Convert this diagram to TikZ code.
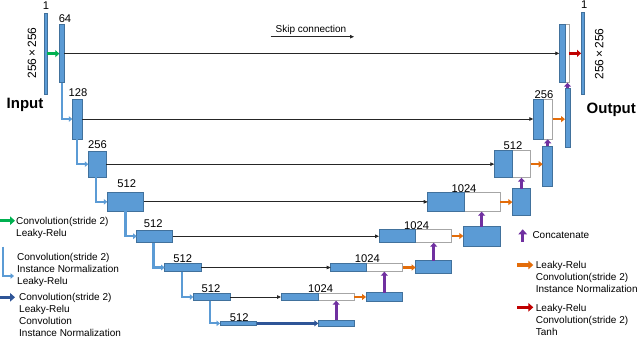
\documentclass[tikz,border=0pt]{standalone}
\usepackage{fontspec}
\setmainfont{Liberation Sans}
\usetikzlibrary{arrows.meta,calc}
\definecolor{bfill}{HTML}{5B9BD5}
\definecolor{bdraw}{HTML}{41719C}
\definecolor{lblue}{HTML}{5B9BD5}
\definecolor{dblue}{HTML}{2F5597}
\definecolor{grn}{HTML}{00B050}
\definecolor{orng}{HTML}{E36C09}
\definecolor{redc}{HTML}{C00000}
\definecolor{purp}{HTML}{7030A0}
\newcommand\blk[6]{%
  \pgfmathsetmacro\bkw{#4-#2}\pgfmathsetmacro\bkh{#5-#3}%
  \node[#6,minimum width=\bkw pt,minimum height=\bkh pt,anchor=north west] (#1) at (#2,#3) {};}
\begin{document}
\begin{tikzpicture}[x=1pt,y=-1pt,
  blue/.style={fill=bfill,draw=bdraw,line width=0.8pt,inner sep=0pt,outer sep=0pt},
  wht/.style={fill=white,draw=black!35,line width=0.8pt,inner sep=0pt,outer sep=0pt},
  skipline/.style={draw=black!85,line width=0.8pt,-{Triangle[length=4pt,width=3.5pt]}},
  downline/.style={draw=lblue,line width=2.2pt,-{Triangle[length=3.5pt,width=5.5pt]}},
  conc/.style={draw=purp,line width=2.8pt,-{Triangle[length=4pt,width=7pt]}},
  orarrow/.style={draw=orng,line width=2.4pt,-{Triangle[length=4pt,width=6pt]}},
  redarrow/.style={draw=redc,line width=2.6pt,-{Triangle[length=4pt,width=7pt]}},
  grarrow/.style={draw=grn,line width=2.6pt,-{Triangle[length=4pt,width=7pt]}},
  dbarrow/.style={draw=dblue,line width=2.6pt,-{Triangle[length=4pt,width=6pt]}},
  lbl/.style={font=\fontsize{11.2}{11}\selectfont,inner sep=0pt},
  big/.style={font=\fontsize{15}{15}\selectfont\bfseries,inner sep=0pt},
  dim/.style={font=\fontsize{12}{12}\selectfont,inner sep=0pt,rotate=90},
  legtxt/.style={font=\fontsize{10}{12.1}\selectfont,align=left,anchor=north west,inner sep=0pt},
  legarrow/.style={line width=3.4pt,-{Triangle[length=5pt,width=8.5pt]}}
]
\useasboundingbox (0,0) rectangle (640,338);

% ---------- encoder ----------
\blk{inp}{44}{13}{47}{94.3}{blue}
\blk{e1}{59.3}{24}{64.3}{82.7}{blue}
\blk{e2}{72.3}{99}{82.3}{139}{blue}
\blk{e3}{88.3}{151}{106}{177.3}{blue}
\blk{e4}{107.3}{192.7}{143.5}{211}{blue}
\blk{e5}{136.7}{230}{172.7}{242.5}{blue}
\blk{e6}{164.7}{263.3}{201}{271.7}{blue}
\blk{e7}{193.3}{293.3}{230}{300.7}{blue}
\blk{e8}{220}{321.7}{256.7}{325}{blue}

% ---------- decoder ----------
\blk{d8}{318.3}{320}{354}{326.7}{blue}
\blk{d7w}{318.3}{293.3}{354.3}{300.7}{wht}
\blk{d7}{281}{293.3}{318.3}{300.7}{blue}
\blk{u7}{366}{292.7}{402.7}{301.7}{blue}
\blk{d6w}{366}{263.3}{402.7}{271.7}{wht}
\blk{d6}{330.7}{263.3}{366}{271.7}{blue}
\blk{u6}{415.7}{260.7}{451.7}{273.3}{blue}
\blk{d5w}{415.7}{229.3}{451.7}{242.7}{wht}
\blk{d5}{379}{229.3}{415.7}{242.7}{blue}
\blk{u5}{463.3}{226.7}{500}{246}{blue}
\blk{d4w}{464}{192.5}{500}{211.7}{wht}
\blk{d4}{427.7}{192.5}{464}{211.7}{blue}
\blk{u4}{512.3}{188.5}{530.7}{215.5}{blue}
\blk{d3w}{512.3}{150.7}{530.7}{177.7}{wht}
\blk{d3}{494.3}{150.7}{512.3}{177.7}{blue}
\blk{u3}{542.7}{146}{552.7}{186.5}{blue}
\blk{d2w}{543}{99}{552.7}{139.3}{wht}
\blk{d2}{533.3}{99}{543}{139.3}{blue}
\blk{u2}{565}{88.3}{570}{147}{blue}
\blk{d1w}{565}{24}{569.3}{82.7}{wht}
\blk{d1}{559.3}{24}{565}{82.7}{blue}
\blk{out}{581}{12.7}{584.3}{94.3}{blue}

% ---------- labels ----------
\node[lbl] (l0) at (46,6) {1};
\node[lbl] (l1) at (65,18.3) {64};
\node[lbl] (l2) at (78,93) {128};
\node[lbl] (l3) at (97.5,144.3) {256};
\node[lbl] (l4) at (126.7,183.3) {512};
\node[lbl] (l5) at (153.3,224) {512};
\node[lbl] (l6) at (182.7,258.3) {512};
\node[lbl] (l7) at (211,288.3) {512};
\node[lbl] (l8) at (239.3,317.3) {512};
\node[lbl] (m7) at (320.7,288.3) {1024};
\node[lbl] (m6) at (367.3,258.3) {1024};
\node[lbl] (m5) at (416.7,226) {1024};
\node[lbl] (m4) at (464,188.5) {1024};
\node[lbl] (m3) at (513,146) {512};
\node[lbl] (m2) at (544,95) {256};
\node[lbl] (m1) at (584.3,5) {1};
\node[dim] (dimL) at (32,53) {256\,×\,256};
\node[dim] (dimR) at (599.3,54) {256\,×\,256};
\node[big] (inlbl) at (25,105) {Input};
\node[big] (outlbl) at (611.3,110) {Output};

% ---------- skip connections ----------
\draw[skipline] (e1.east) -- (e1.east -| d1.west);
\draw[skipline] (e2.east) -- (e2.east -| d2.west);
\draw[skipline] (e3.east) -- (e3.east -| d3.west);
\draw[skipline] (e4.east) -- (e4.east -| d4.west);
\draw[skipline] (e5.east) -- (e5.east -| d5.west);
\draw[skipline] (e6.east) -- (e6.east -| d6.west);
\draw[skipline] (e7.east) -- (e7.east -| d7.west);
\draw[dbarrow] (e8.east) -- (e8.east -| d8.west);

% ---------- down connectors ----------
\draw[grarrow] (inp.east) -- (inp.east -| e1.west);
\draw[downline] (e1.south) |- (e2.west);
\draw[downline] (e2.south) |- (e3.west);
\draw[downline] ([xshift=-1.5pt]e3.south) |- (e4.west);
\draw[downline] (e4.south) |- (e5.west);
\draw[downline] ([xshift=-1.2pt]e5.south) |- (e6.west);
\draw[downline] ([xshift=-1.2pt]e6.south) |- (e7.west);
\draw[downline] ([xshift=-1.5pt]e7.south) |- (e8.west);

% ---------- up path ----------
\draw[conc] (d8.north) -- (d8.north |- d7w.south);
\draw[orarrow] (d7w.east) -- (d7w.east -| u7.west);
\draw[conc] (u7.north) -- (u7.north |- d6w.south);
\draw[orarrow] (d6w.east) -- (d6w.east -| u6.west);
\draw[conc] (u6.north) -- (u6.north |- d5w.south);
\draw[orarrow] (d5w.east) -- (d5w.east -| u5.west);
\draw[conc] (u5.north) -- (u5.north |- d4w.south);
\draw[orarrow] (d4w.east) -- (d4w.east -| u4.west);
\draw[conc] (u4.north) -- (u4.north |- d3w.south);
\draw[orarrow] (d3w.east) -- (d3w.east -| u3.west);
\draw[conc] (u3.north) -- (u3.north |- d2w.south);
\draw[orarrow] (d2w.east) -- (d2w.east -| u2.west);
\draw[conc] (u2.north) -- (u2.north |- d1w.south);
\draw[redarrow] (d1w.east) -- (d1w.east -| out.west);

% ---------- skip connection legend ----------
\coordinate (skA) at (270.7,36.7);
\coordinate (skB) at (354,36.7);
\draw[skipline] (skA) -- (skB);
\node[font=\fontsize{10}{10}\selectfont,inner sep=0pt] (sktxt) at (311,30) {Skip connection};

% ---------- left legend ----------
\coordinate (g1) at (0,220.7); \coordinate (g2) at (15,220.7);
\draw[legarrow,draw=grn] (g1) -- (g2);
\node[legtxt] (gt) at (16,217) {Convolution(stride 2)\\Leaky-Relu};
\coordinate (b1) at (2.7,246.7); \coordinate (b2) at (14,276);
\draw[downline] (b1) |- (b2);
\node[legtxt] (bt) at (17,252.6) {Convolution(stride 2)\\Instance Normalization\\Leaky-Relu};
\coordinate (k1) at (0,297.3); \coordinate (k2) at (15,297.3);
\draw[legarrow,draw=dblue] (k1) -- (k2);
\node[legtxt] (kt) at (19,292.8) {Convolution(stride 2)\\Leaky-Relu\\Convolution\\Instance Normalization};

% ---------- right legend ----------
\coordinate (p1) at (522.7,241.7); \coordinate (p2) at (522.7,229.3);
\draw[legarrow,draw=purp] (p1) -- (p2);
\node[legtxt] (pt) at (532.3,231.3) {Concatenate};
\coordinate (o1) at (517.3,265); \coordinate (o2) at (533.3,265);
\draw[legarrow,draw=orng] (o1) -- (o2);
\node[legtxt] (ot) at (535.7,261.3) {Leaky-Relu\\Convolution(stride 2)\\Instance Normalization};
\coordinate (r1) at (517.3,307.3); \coordinate (r2) at (533.3,307.3);
\draw[legarrow,draw=redc] (r1) -- (r2);
\node[legtxt] (rt) at (535.7,303.6) {Leaky-Relu\\Convolution(stride 2)\\Tanh};
\end{tikzpicture}
\end{document}
